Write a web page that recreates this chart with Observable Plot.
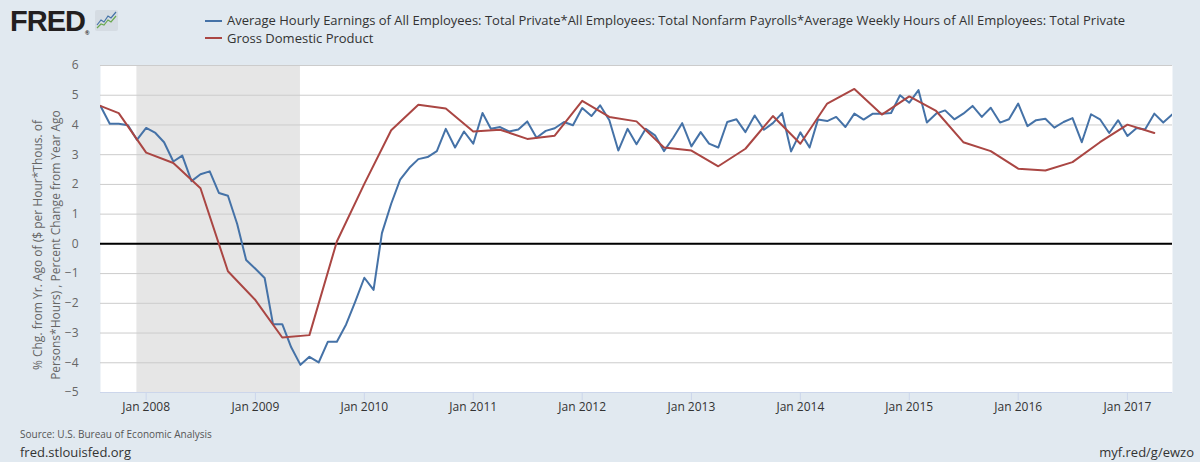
<!DOCTYPE html>
<html>
<head>
<meta charset="utf-8">
<script src="https://cdn.jsdelivr.net/npm/d3@7"></script>
<script src="https://cdn.jsdelivr.net/npm/@observablehq/plot@0.6"></script>
<style>
html, body { margin: 0; padding: 0; background: #e1e9f0; }
#wrap { position: relative; width: 1200px; height: 462px; overflow: hidden; font-family: "Open Sans", sans-serif; }
#header { position: relative; height: 55px; }
#chart { position: relative; height: 367px; }
#footer { position: relative; height: 40px; }
.logo { position: absolute; left: 10px; top: 4px; font-family: "Liberation Sans", Arial, sans-serif; font-weight: 900; font-size: 29px; letter-spacing: -1px; color: #231f20; line-height: 34px; }
.logo sup { font-size: 6px; letter-spacing: 0; vertical-align: 0; position: relative; top: 4px; }
.icon { position: absolute; left: 95px; top: 10px; }
.legend { position: absolute; left: 205px; top: 12px; font-size: 13px; color: #333; }
.legend .row { height: 17.6px; line-height: 17.6px; white-space: nowrap; }
.legend .sw { display: inline-block; width: 17px; height: 2px; vertical-align: middle; margin-right: 5px; position: relative; top: -1px; }
.ytitle { position: absolute; left: -103px; top: 172px; width: 300px; height: 36px; transform: rotate(-90deg); text-align: center; font-size: 12px; line-height: 18px; color: #666; white-space: nowrap; }
.src { position: absolute; left: 20px; top: 5px; font-size: 10px; color: #555; }
.site { position: absolute; left: 20px; top: 21px; font-size: 13px; color: #333; }
.short { position: absolute; right: 6px; top: 21px; font-size: 13px; color: #333; }
</style>
</head>
<body>
<div id="wrap">
  <div id="header">
    <div class="logo">FRED<sup>®</sup></div>
    <svg class="icon" width="23" height="21" viewBox="0 0 23 21">
      <rect x="0" y="0" width="23" height="21" rx="2" fill="#d5dce3"/>
      <polyline points="2,15 6,10 9,12 13,6 16,8 21,2" fill="none" stroke="#4572a7" stroke-width="1.2"/>
      <polyline points="2,18 6,14 9,15 13,10 16,12 21,6" fill="none" stroke="#6aa84f" stroke-width="1.2"/>
    </svg>
    <div class="legend" id="legend"></div>
  </div>
  <div id="chart">
    <div class="ytitle">% Chg. from Yr. Ago of ($ per Hour*Thous. of<br>Persons*Hours) , Percent Change from Year Ago</div>
  </div>
  <div id="footer">
    <div class="src">Source: U.S. Bureau of Economic Analysis</div>
    <div class="site">fred.stlouisfed.org</div>
    <div class="short">myf.red/g/ewzo</div>
  </div>
</div>
<script>
// ---- Data ----
const seriesNames = [
  "Average Hourly Earnings of All Employees: Total Private*All Employees: Total Nonfarm Payrolls*Average Weekly Hours of All Employees: Total Private",
  "Gross Domestic Product"
];
const seriesColors = ["#4572a7", "#aa4643"];

// Monthly series, starting Aug 2007
const earningsStart = "2007-08-01";
const earningsValues = [
  4.64, 4.04, 4.04, 3.99, 3.50, 3.90, 3.73, 3.42, 2.77, 2.97, 2.11, 2.34,
  2.44, 1.71, 1.62, 0.67, -0.54, -0.84, -1.15, -2.70, -2.70, -3.48, -4.07, -3.80,
  -3.99, -3.29, -3.29, -2.71, -1.96, -1.14, -1.55, 0.36, 1.35, 2.16, 2.56, 2.85,
  2.92, 3.12, 3.87, 3.24, 3.78, 3.37, 4.40, 3.87, 3.93, 3.78, 3.85, 4.12,
  3.57, 3.80, 3.89, 4.10, 3.99, 4.57, 4.30, 4.66, 4.16, 3.14, 3.87, 3.35,
  3.87, 3.65, 3.12, 3.57, 4.06, 3.28, 3.76, 3.37, 3.24, 4.10, 4.19, 3.76,
  4.32, 3.84, 4.06, 4.40, 3.11, 3.75, 3.24, 4.18, 4.13, 4.27, 3.93, 4.38,
  4.18, 4.38, 4.38, 4.40, 5.00, 4.75, 5.17, 4.08, 4.38, 4.49, 4.19, 4.38,
  4.64, 4.27, 4.58, 4.08, 4.19, 4.72, 3.96, 4.16, 4.21, 3.91, 4.10, 4.23,
  3.42, 4.36, 4.19, 3.73, 4.16, 3.63, 3.90, 3.85, 4.38, 4.08, 4.36
];

// Quarterly series, starting Q3 2007
const gdpStart = "2007-07-01";
const gdpValues = [
  4.76, 4.40, 3.07, 2.72, 1.87, -0.92, -1.89, -3.15, -3.07, 0.08,
  2.02, 3.82, 4.68, 4.55, 3.78, 3.84, 3.53, 3.64, 4.81, 4.27,
  4.12, 3.24, 3.14, 2.61, 3.20, 4.30, 3.37, 4.72, 5.21, 4.35,
  4.96, 4.47, 3.42, 3.12, 2.53, 2.47, 2.75, 3.42, 4.01, 3.73
];

const recessions = [{ start: "2007-12-01", end: "2009-06-01" }];
const xDomain = ["2007-08-01", "2017-06-01"];
const xTickDates = ["2008-01-01", "2009-01-01", "2010-01-01", "2011-01-01", "2012-01-01",
  "2013-01-01", "2014-01-01", "2015-01-01", "2016-01-01", "2017-01-01"];
const yTicks = [-5, -4, -3, -2, -1, 0, 1, 2, 3, 4, 5, 6];

// ---- Build tables ----
const earnings = earningsValues.map((v, i) => ({ date: d3.utcMonth.offset(new Date(earningsStart), i), value: v }));
const gdp = gdpValues.map((v, i) => ({ date: d3.utcMonth.offset(new Date(gdpStart), 3 * i), value: v }));

// ---- Legend ----
const legend = document.getElementById("legend");
seriesNames.forEach((name, i) => {
  const row = document.createElement("div");
  row.className = "row";
  const sw = document.createElement("span");
  sw.className = "sw";
  sw.style.background = seriesColors[i];
  row.appendChild(sw);
  row.appendChild(document.createTextNode(name));
  legend.appendChild(row);
});

// ---- Chart ----
const chart = Plot.plot({
  width: 1200,
  height: 367,
  marginLeft: 100,
  marginRight: 28,
  marginTop: 10,
  marginBottom: 30,
  style: { background: "transparent", fontFamily: '"Open Sans", sans-serif', fontSize: "12px", overflow: "visible" },
  x: { type: "utc", domain: xDomain.map(d => new Date(d)) },
  y: { domain: [-5, 6] },
  marks: [
    Plot.frame({ fill: "white", stroke: "none" }),
    Plot.rect(recessions, { x1: d => new Date(d.start), x2: d => new Date(d.end), fill: "#e6e6e6" }),
    Plot.ruleY(yTicks, { stroke: "#cccccc", strokeWidth: 1 }),
    Plot.ruleY([-5], { stroke: "#ccd6eb", strokeWidth: 1 }),
    Plot.ruleY([0], { stroke: "#000000", strokeWidth: 2 }),
    Plot.lineY(earnings, { x: "date", y: "value", stroke: seriesColors[0], strokeWidth: 2, clip: true }),
    Plot.lineY(gdp, { x: "date", y: "value", stroke: seriesColors[1], strokeWidth: 2, clip: true }),
    Plot.axisX({ ticks: xTickDates.map(d => new Date(d)), tickFormat: d3.utcFormat("%b %Y"), tickSize: 8, tickPadding: 2, stroke: "#ccd6eb", fill: "#333", label: null }),
    Plot.axisY({ ticks: yTicks, tickSize: 0, tickPadding: 22, fill: "#666", label: null })
  ]
});
document.getElementById("chart").appendChild(chart);
</script>
</body>
</html>
